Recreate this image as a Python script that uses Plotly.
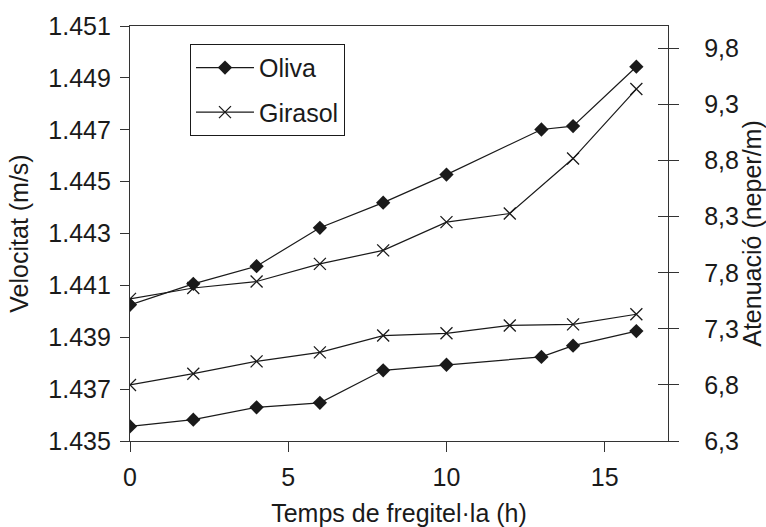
import plotly.graph_objects as go

# ---- data ----
hours_oliva = [0, 2, 4, 6, 8, 10, 13, 14, 16]
hours_girasol = [0, 2, 4, 6, 8, 10, 12, 14, 16]

vel_oliva = [1.44025, 1.44106, 1.44174, 1.44322, 1.44419, 1.44527, 1.44701, 1.44714, 1.44943]
vel_girasol = [1.44048, 1.44090, 1.44115, 1.44183, 1.44235, 1.44344, 1.44377, 1.44589, 1.44857]

aten_oliva = [6.43, 6.49, 6.60, 6.64, 6.93, 6.98, 7.05, 7.15, 7.28]
aten_girasol = [6.80, 6.90, 7.01, 7.09, 7.24, 7.26, 7.33, 7.34, 7.43]

x_ticks = [0, 5, 10, 15]
vel_ticks = [1.435, 1.437, 1.439, 1.441, 1.443, 1.445, 1.447, 1.449, 1.451]
vel_ticktext = ["1.435", "1.437", "1.439", "1.441", "1.443", "1.445", "1.447", "1.449", "1.451"]
aten_ticks = [6.3, 6.8, 7.3, 7.8, 8.3, 8.8, 9.3, 9.8]
aten_ticktext = ["6,3", "6,8", "7,3", "7,8", "8,3", "8,8", "9,3", "9,8"]

x_range = [0, 17]
vel_range = [1.435, 1.451]
aten_range = [6.3, 10.0]

FONT = "Liberation Sans, Arial, Helvetica, sans-serif"
FS = 25
INK = "#1a1a1a"
AX = "#333333"

diamond = dict(symbol="diamond", size=11, color=INK, line=dict(width=0))
cross = dict(symbol="x-thin", size=12, color=INK, line=dict(width=1.3, color=INK))
line_style = dict(color=INK, width=1.2)

fig = go.Figure()
fig.add_trace(go.Scatter(x=hours_oliva, y=vel_oliva, name="Oliva", mode="lines+markers",
                         marker=diamond, line=line_style, legendgroup="a", yaxis="y"))
fig.add_trace(go.Scatter(x=hours_girasol, y=vel_girasol, name="Girasol", mode="lines+markers",
                         marker=cross, line=line_style, legendgroup="b", yaxis="y"))
fig.add_trace(go.Scatter(x=hours_oliva, y=aten_oliva, name="Oliva", mode="lines+markers",
                         marker=diamond, line=line_style, showlegend=False, yaxis="y2"))
fig.add_trace(go.Scatter(x=hours_girasol, y=aten_girasol, name="Girasol", mode="lines+markers",
                         marker=cross, line=line_style, showlegend=False, yaxis="y2"))
# helper trace so the inner-tick right axis is drawn
fig.add_trace(go.Scatter(x=[None], y=[None], yaxis="y3", showlegend=False, hoverinfo="skip"))

fig.update_layout(
    width=766, height=527,
    margin=dict(l=130, r=98, t=26, b=86),
    paper_bgcolor="white", plot_bgcolor="white",
    font=dict(family=FONT, size=FS, color=INK),
    showlegend=True,
    legend=dict(x=0.1115, y=0.957, xanchor="left", yanchor="top",
                bgcolor="white", bordercolor=INK, borderwidth=1,
                traceorder="grouped", tracegroupgap=9, itemwidth=58,
                font=dict(family=FONT, size=FS, color=INK)),
    xaxis=dict(range=x_range, tickvals=x_ticks, ticks="outside", ticklen=10, tickwidth=1.3,
               tickcolor=AX, showline=True, linecolor=AX, linewidth=1.3, mirror=True,
               showgrid=False, zeroline=False, ticklabelstandoff=4, automargin=False,
               title=dict(text="Temps de fregitel·la (h)", standoff=16,
                          font=dict(family=FONT, size=FS, color=INK))),
    yaxis=dict(range=vel_range, tickvals=vel_ticks, ticktext=vel_ticktext, ticks="outside",
               ticklen=9, tickwidth=1.3, tickcolor=AX, showline=True, linecolor=AX, linewidth=1.3,
               showgrid=False, zeroline=False, ticklabelstandoff=4, automargin=False,
               title=dict(text="Velocitat (m/s)", standoff=12,
                          font=dict(family=FONT, size=FS, color=INK))),
    yaxis2=dict(range=aten_range, tickvals=aten_ticks, ticktext=aten_ticktext, overlaying="y",
                side="right", ticks="outside", ticklen=10, tickwidth=1.3, tickcolor=AX,
                showline=True, linecolor=AX, linewidth=1.3, showgrid=False, zeroline=False,
                ticklabelstandoff=20, automargin=False,
                title=dict(text="Atenuació (neper/m)", standoff=12,
                           font=dict(family=FONT, size=FS, color=INK))),
    yaxis3=dict(range=aten_range, tickvals=aten_ticks, overlaying="y", side="right",
                ticks="inside", ticklen=10, tickwidth=1.3, tickcolor=AX, showticklabels=False,
                showline=False, showgrid=False, zeroline=False, automargin=False),
)

fig.write_html("out.html")
